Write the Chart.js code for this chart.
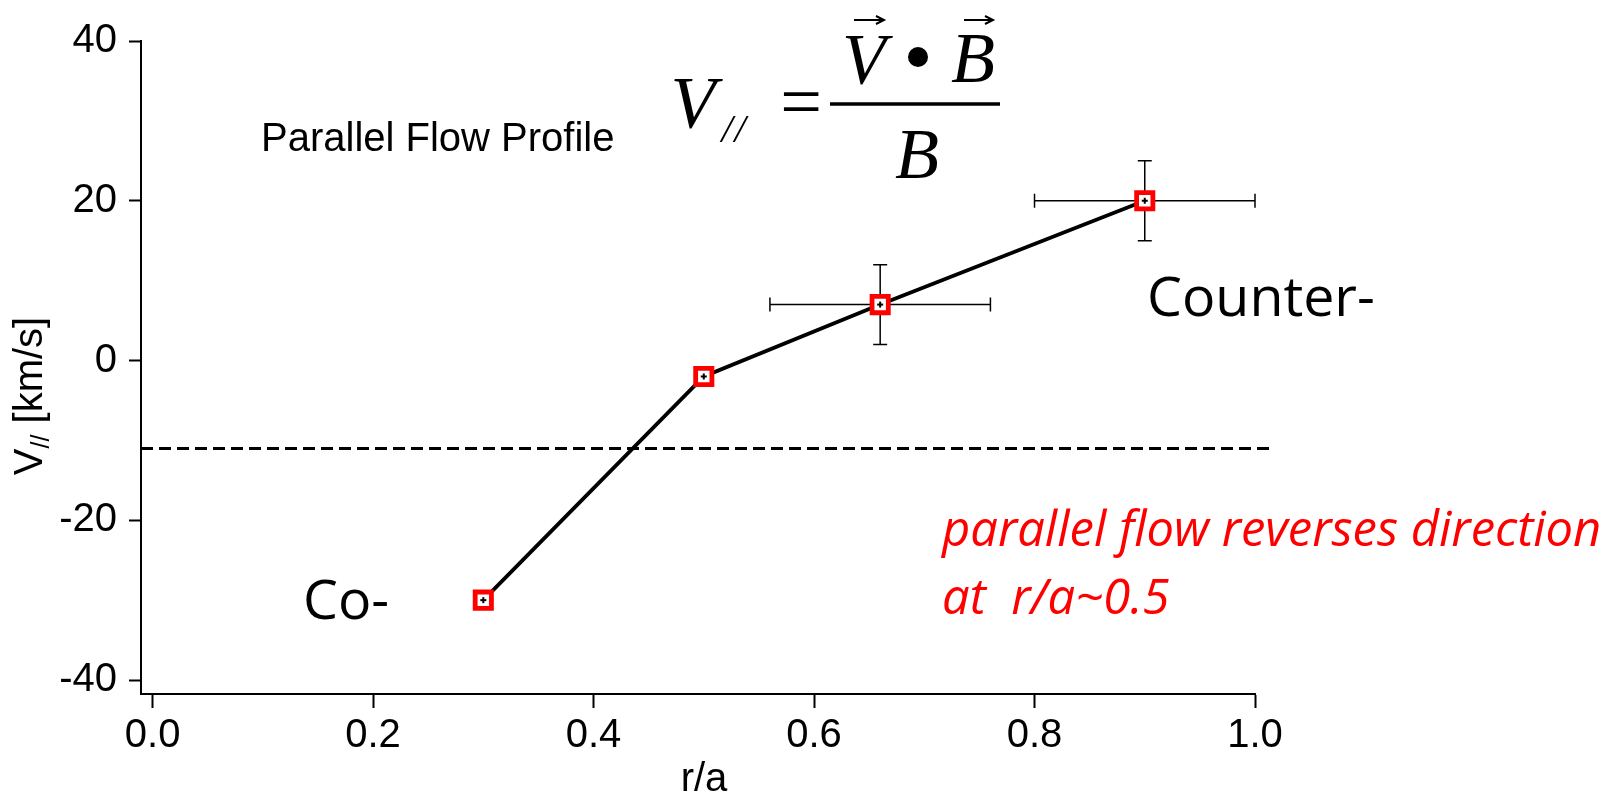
<!DOCTYPE html>
<html>
<head>
<meta charset="utf-8">
<script src="https://cdn.jsdelivr.net/npm/chart.js@4.4.1/dist/chart.umd.min.js"></script>
<style>
  body { margin: 0; background: #fff; }
  #wrap { width: 1609px; height: 794px; position: relative; }
</style>
</head>
<body>
<div id="wrap"><canvas id="flowChart"></canvas></div>
<script>
// r/a and measured parallel flow (km/s)
const rOverA = [0.3, 0.5, 0.66, 0.9];
const vParallel = [-30, -2, 7, 20];
const rErr = [0, 0, 0.1, 0.1];
const vErr = [0, 0, 5, 5];

// dashed reference level
const refLevel = -11;
const refRange = [-0.0105, 1.016];

const xTicks = [0, 0.2, 0.4, 0.6, 0.8, 1.0];
const yTicks = [-40, -20, 0, 20, 40];

const SANS = '"Liberation Sans", Arial, sans-serif';
const SERIF = '"Liberation Serif", "Times New Roman", serif';
const CAL = '"Open Sans", "Noto Sans", sans-serif';

// font size so that text hits a given width
function fitFont(ctx, text, style, family, width) {
  ctx.font = style + ' 100px ' + family;
  const w = ctx.measureText(text).width;
  return style + ' ' + (100 * width / w).toFixed(1) + 'px ' + family;
}

function arrow(ctx, x0, x1, y) {
  ctx.beginPath();
  ctx.moveTo(x0, y);
  ctx.lineTo(x1, y);
  ctx.moveTo(x1 - 8, y - 4);
  ctx.lineTo(x1, y);
  ctx.lineTo(x1 - 8, y + 4);
  ctx.stroke();
}

const overlay = {
  id: 'overlay',
  beforeDatasetsDraw(chart) {
    const { ctx, scales: { x, y } } = chart;
    ctx.save();
    ctx.strokeStyle = '#000';
    ctx.lineWidth = 1.5;
    const cap = 7;
    rOverA.forEach((r, i) => {
      if (!rErr[i] && !vErr[i]) return;
      const px = x.getPixelForValue(r);
      const py = y.getPixelForValue(vParallel[i]);
      const xl = x.getPixelForValue(r - rErr[i]);
      const xr = x.getPixelForValue(r + rErr[i]);
      const yt = y.getPixelForValue(vParallel[i] + vErr[i]);
      const yb = y.getPixelForValue(vParallel[i] - vErr[i]);
      ctx.beginPath();
      ctx.moveTo(xl, py); ctx.lineTo(xr, py);
      ctx.moveTo(xl, py - cap); ctx.lineTo(xl, py + cap);
      ctx.moveTo(xr, py - cap); ctx.lineTo(xr, py + cap);
      ctx.moveTo(px, yt); ctx.lineTo(px, yb);
      ctx.moveTo(px - cap, yt); ctx.lineTo(px + cap, yt);
      ctx.moveTo(px - cap, yb); ctx.lineTo(px + cap, yb);
      ctx.stroke();
    });
    ctx.restore();
  },
  afterDatasetsDraw(chart) {
    const { ctx, scales: { x, y } } = chart;
    ctx.save();
    ctx.fillStyle = '#000';
    rOverA.forEach((r, i) => {
      const px = x.getPixelForValue(r);
      const py = y.getPixelForValue(vParallel[i]);
      ctx.fillRect(px - 3, py - 1, 6, 2);
      ctx.fillRect(px - 1, py - 3, 2, 6);
    });
    ctx.restore();
  },
  afterDraw(chart) {
    const ctx = chart.ctx;
    ctx.save();
    ctx.fillStyle = '#000';
    ctx.textBaseline = 'alphabetic';

    // y axis title V// [km/s]
    ctx.save();
    ctx.translate(31, 396);
    ctx.rotate(-Math.PI / 2);
    ctx.textBaseline = 'middle';
    ctx.textAlign = 'left';
    const big = '40px ' + SANS, small = '25px ' + SANS;
    ctx.font = big; const wV = ctx.measureText('V').width;
    const wRest = ctx.measureText(' [km/s]').width;
    ctx.font = small; const wSub = ctx.measureText('//').width;
    let sx = -(wV + wSub + wRest) / 2;
    ctx.font = big; ctx.fillText('V', sx, 0); sx += wV;
    ctx.font = small; ctx.fillText('//', sx, 11); sx += wSub;
    ctx.font = big; ctx.fillText(' [km/s]', sx, 0);
    ctx.restore();

    // x axis title
    ctx.textAlign = 'center';
    ctx.font = '40px ' + SANS;
    ctx.fillText('r/a', 704, 791);

    // label
    ctx.textAlign = 'left';
    ctx.font = '40px ' + SANS;
    ctx.fillText('Parallel Flow Profile', 261, 151);

    // formula
    ctx.textAlign = 'center';
    ctx.font = 'italic 74px ' + SERIF;
    ctx.fillText('V', 693, 128);
    ctx.font = 'italic 40px ' + SERIF;
    ctx.fillText('/', 727, 142);
    ctx.fillText('/', 740, 142);
    ctx.font = '74px ' + SERIF;
    ctx.fillText('=', 801, 126);
    ctx.font = 'italic 72px ' + SERIF;
    ctx.fillText('V', 864, 83);
    ctx.fillText('B', 973, 82);
    ctx.fillText('B', 917, 178);
    ctx.beginPath();
    ctx.arc(918, 57, 10, 0, Math.PI * 2);
    ctx.fill();
    ctx.strokeStyle = '#000';
    ctx.lineWidth = 3.5;
    ctx.beginPath();
    ctx.moveTo(830, 104); ctx.lineTo(1000, 104);
    ctx.stroke();
    ctx.lineWidth = 2;
    arrow(ctx, 854, 884, 20);
    arrow(ctx, 964, 993, 20);

    // Counter- / Co-
    ctx.textAlign = 'left';
    ctx.font = fitFont(ctx, 'Counter-', '', CAL, 228);
    ctx.fillText('Counter-', 1147, 316);
    ctx.fillText('Co-', 303, 619);

    // red note
    ctx.fillStyle = '#ff0000';
    ctx.font = fitFont(ctx, 'parallel flow reverses direction', 'italic', CAL, 659);
    ctx.fillText('parallel flow reverses direction', 942, 546);
    ctx.fillText('at  r/a~0.5', 942, 614);
    ctx.restore();
  }
};

const ctx = document.getElementById('flowChart').getContext('2d');
new Chart(ctx, {
  type: 'scatter',
  data: {
    datasets: [
      {
        data: rOverA.map((r, i) => ({ x: r, y: vParallel[i] })),
        showLine: true,
        borderColor: '#000',
        borderWidth: 3.8,
        pointStyle: 'rect',
        pointRadius: 11.5,
        pointBorderWidth: 4.8,
        pointBorderColor: '#ff0000',
        pointBackgroundColor: '#fff',
      },
      {
        data: refRange.map(r => ({ x: r, y: refLevel })),
        showLine: true,
        borderColor: '#000',
        borderWidth: 3,
        borderDash: [12, 6],
        pointRadius: 0,
        clip: false,
      },
    ],
  },
  options: {
    responsive: true,
    maintainAspectRatio: false,
    animation: false,
    layout: { padding: { left: 0, top: 41, right: 354, bottom: 0 } },
    plugins: { legend: { display: false }, tooltip: { enabled: false } },
    scales: {
      x: {
        type: 'linear',
        min: -0.0105,
        max: 1.0,
        afterBuildTicks: s => { s.ticks = xTicks.map(v => ({ value: v })); },
        afterFit: s => { s.height = 100; },
        grid: { display: true, drawOnChartArea: false, drawTicks: true, tickLength: 14, tickColor: '#000', tickWidth: 2 },
        border: { display: true, color: '#000', width: 2 },
        ticks: {
          color: '#000', font: { family: SANS, size: 40 }, padding: 4,
          maxRotation: 0, autoSkip: false,
          callback: v => v.toFixed(1),
        },
      },
      y: {
        min: -41.75,
        max: 40,
        afterBuildTicks: s => { s.ticks = yTicks.map(v => ({ value: v })); },
        afterFit: s => { s.width = 141; },
        grid: { display: true, drawOnChartArea: false, drawTicks: true, tickLength: 12, tickColor: '#000', tickWidth: 2 },
        border: { display: true, color: '#000', width: 2 },
        ticks: {
          color: '#000', font: { family: SANS, size: 40 }, padding: 12,
          callback: v => String(v),
        },
      },
    },
  },
  plugins: [overlay],
});
</script>
</body>
</html>
